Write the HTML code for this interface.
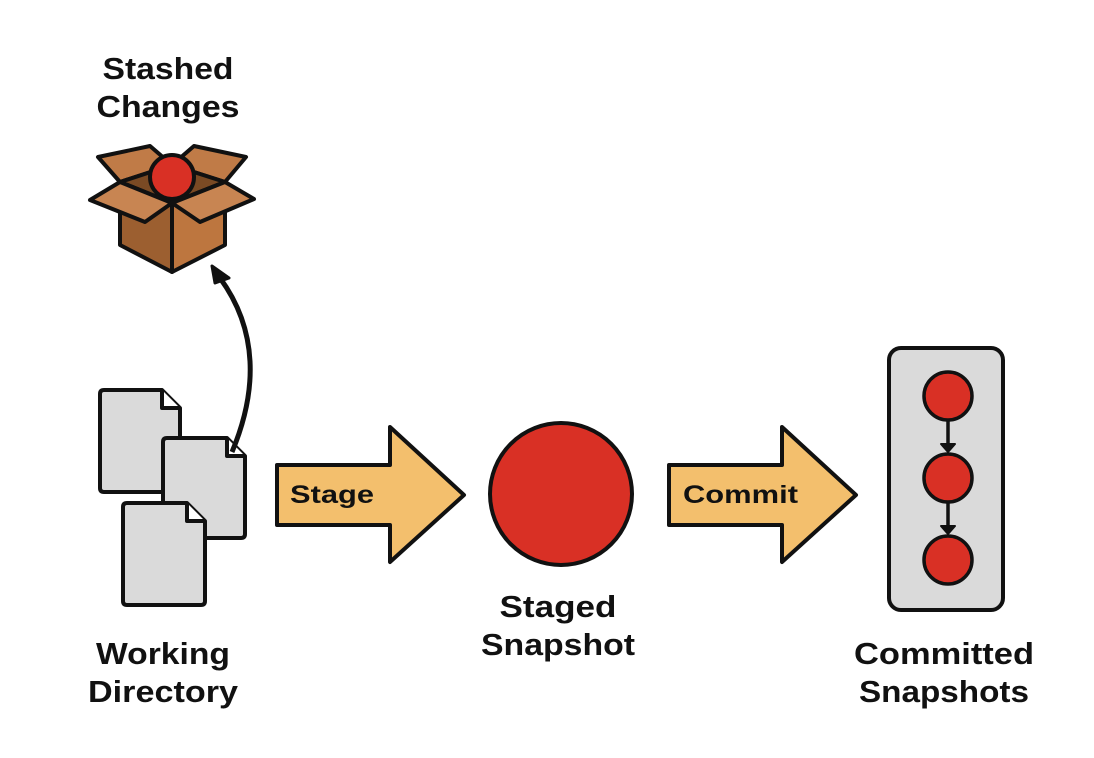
<!DOCTYPE html>
<html><head><meta charset="utf-8"><style>html,body{margin:0;padding:0;background:#fff}svg{display:block}</style></head>
<body>
<svg width="1094" height="758" viewBox="0 0 1094 758" xmlns="http://www.w3.org/2000/svg">
<g font-family="Liberation Sans, sans-serif" font-weight="bold" font-size="31" fill="#111" text-anchor="middle">
<text x="168" y="79" textLength="131" lengthAdjust="spacingAndGlyphs">Stashed</text>
<text x="168" y="117" textLength="143" lengthAdjust="spacingAndGlyphs">Changes</text>
<text x="163" y="664" textLength="134" lengthAdjust="spacingAndGlyphs">Working</text>
<text x="163" y="702" textLength="150" lengthAdjust="spacingAndGlyphs">Directory</text>
<text x="558" y="617" textLength="117" lengthAdjust="spacingAndGlyphs">Staged</text>
<text x="558" y="655" textLength="154" lengthAdjust="spacingAndGlyphs">Snapshot</text>
<text x="944" y="664" textLength="180" lengthAdjust="spacingAndGlyphs">Committed</text>
<text x="944" y="702" textLength="170" lengthAdjust="spacingAndGlyphs">Snapshots</text>
</g>
<g stroke="#111" stroke-width="4" stroke-linejoin="round">
<!-- box -->
<polygon points="98,157 150,146 172,165 120,182" fill="#c07b47"/>
<polygon points="246,157 194,146 172,165 225,182" fill="#c07b47"/>
<polygon points="120,182 172,165 225,182 172,203" fill="#7a4a24"/>
<circle cx="172" cy="177" r="22" fill="#d93025"/>
<polygon points="120,182 172,203 172,272 120,245" fill="#9c5f30"/>
<polygon points="225,182 172,203 172,272 225,245" fill="#bd763f"/>
<polygon points="120,182 172,203 145,222 90,200" fill="#c88552"/>
<polygon points="225,182 172,203 200,222 254,199" fill="#c88552"/>
<!-- docs -->
<path d="M104,390 H162 L180,408 V488 Q180,492 176,492 H104 Q100,492 100,488 V394 Q100,390 104,390Z" fill="#dadada"/>
<path d="M162,390 V408 H180" fill="#fff"/>
<path d="M167,438 H227 L245,456 V534 Q245,538 241,538 H167 Q163,538 163,534 V442 Q163,438 167,438Z" fill="#dadada"/>
<path d="M227,438 V456 H245" fill="#fff"/>
<path d="M127,503 H187 L205,521 V601 Q205,605 201,605 H127 Q123,605 123,601 V507 Q123,503 127,503Z" fill="#dadada"/>
<path d="M187,503 V521 H205" fill="#fff"/>
<!-- curve arrow -->
<path d="M232,452 C258,390 258,330 220,278" fill="none" stroke-width="5"/>
<polygon points="212,266 229,278 215,283" fill="#111" stroke-width="3"/>
<!-- stage arrow -->
<polygon points="277,465 390,465 390,427 464,495 390,562 390,525 277,525" fill="#f3bf6d"/>
<polygon points="669,465 782,465 782,427 856,495 782,562 782,525 669,525" fill="#f3bf6d"/>
<circle cx="561" cy="494" r="71" fill="#d93025"/>
<rect x="889" y="348" width="114" height="262" rx="12" fill="#dadada"/>
<g stroke-width="3.5">
<circle cx="948" cy="396" r="24" fill="#d93025"/>
<circle cx="948" cy="478" r="24" fill="#d93025"/>
<circle cx="948" cy="560" r="24" fill="#d93025"/>
<line x1="948" y1="420" x2="948" y2="446"/><line x1="948" y1="502" x2="948" y2="528"/>
</g>
<polygon points="941,444 955,444 948,452" fill="#111" stroke-width="2"/>
<polygon points="941,526 955,526 948,534" fill="#111" stroke-width="2"/>
</g>
<g font-family="Liberation Sans, sans-serif" font-weight="bold" font-size="25" fill="#111">
<text x="290" y="503" textLength="84" lengthAdjust="spacingAndGlyphs">Stage</text>
<text x="683" y="503" textLength="115" lengthAdjust="spacingAndGlyphs">Commit</text>
</g>
</svg>
</body></html>
